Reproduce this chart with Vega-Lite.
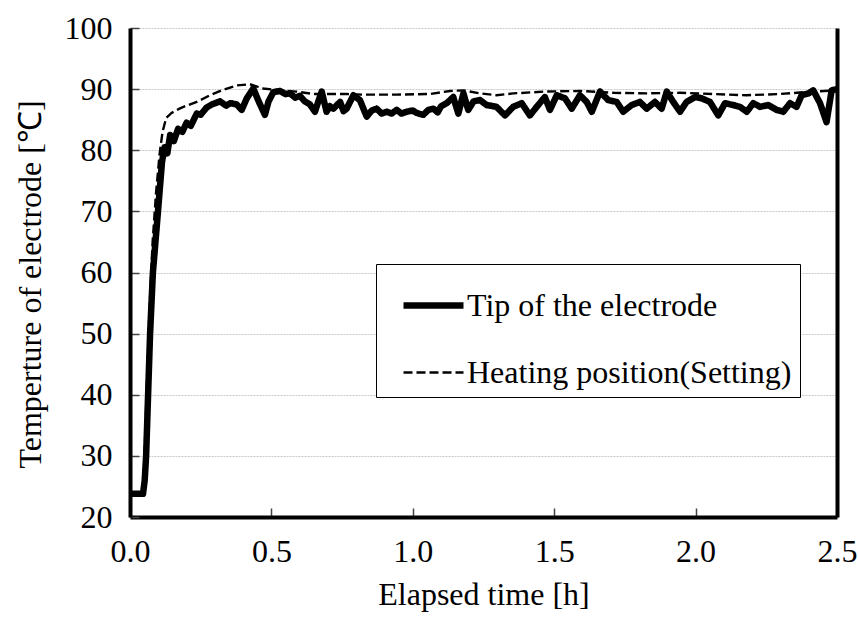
{
  "$schema": "https://vega.github.io/schema/vega-lite/v6.json",
  "width": 707,
  "height": 489,
  "autosize": {"type": "none"},
  "padding": {"left": 130, "top": 28, "right": 21, "bottom": 100},
  "background": "white",
  "config": {"view": {"stroke": null}, "font": "Times New Roman, Liberation Serif, Times, serif",
             "axis": {"labelFont": "Times New Roman", "titleFont": "Times New Roman"},
             "legend": {"labelFont": "Times New Roman, Liberation Serif, Times, serif"}},
  "data": {"values": [
    {"series": "Heating position(Setting)", "t": 0, "v": 23.8},
    {"series": "Heating position(Setting)", "t": 0.044, "v": 23.8},
    {"series": "Heating position(Setting)", "t": 0.05, "v": 28},
    {"series": "Heating position(Setting)", "t": 0.055, "v": 35},
    {"series": "Heating position(Setting)", "t": 0.062, "v": 45},
    {"series": "Heating position(Setting)", "t": 0.07, "v": 55},
    {"series": "Heating position(Setting)", "t": 0.08, "v": 65},
    {"series": "Heating position(Setting)", "t": 0.092, "v": 73},
    {"series": "Heating position(Setting)", "t": 0.105, "v": 79.5},
    {"series": "Heating position(Setting)", "t": 0.115, "v": 83},
    {"series": "Heating position(Setting)", "t": 0.128, "v": 85.3},
    {"series": "Heating position(Setting)", "t": 0.147, "v": 86.1},
    {"series": "Heating position(Setting)", "t": 0.175, "v": 86.8},
    {"series": "Heating position(Setting)", "t": 0.2, "v": 87.3},
    {"series": "Heating position(Setting)", "t": 0.236, "v": 87.9},
    {"series": "Heating position(Setting)", "t": 0.283, "v": 89.0},
    {"series": "Heating position(Setting)", "t": 0.33, "v": 89.9},
    {"series": "Heating position(Setting)", "t": 0.377, "v": 90.6},
    {"series": "Heating position(Setting)", "t": 0.424, "v": 90.8},
    {"series": "Heating position(Setting)", "t": 0.471, "v": 90.1},
    {"series": "Heating position(Setting)", "t": 0.53, "v": 89.8},
    {"series": "Heating position(Setting)", "t": 0.589, "v": 89.6},
    {"series": "Heating position(Setting)", "t": 0.648, "v": 89.2},
    {"series": "Heating position(Setting)", "t": 0.707, "v": 89.2},
    {"series": "Heating position(Setting)", "t": 0.766, "v": 89.2},
    {"series": "Heating position(Setting)", "t": 0.825, "v": 89.1},
    {"series": "Heating position(Setting)", "t": 0.943, "v": 89.1},
    {"series": "Heating position(Setting)", "t": 1.061, "v": 89.2},
    {"series": "Heating position(Setting)", "t": 1.132, "v": 89.7},
    {"series": "Heating position(Setting)", "t": 1.179, "v": 89.8},
    {"series": "Heating position(Setting)", "t": 1.238, "v": 89.3},
    {"series": "Heating position(Setting)", "t": 1.296, "v": 89.0},
    {"series": "Heating position(Setting)", "t": 1.355, "v": 89.3},
    {"series": "Heating position(Setting)", "t": 1.467, "v": 89.6},
    {"series": "Heating position(Setting)", "t": 1.591, "v": 89.7},
    {"series": "Heating position(Setting)", "t": 1.71, "v": 89.4},
    {"series": "Heating position(Setting)", "t": 1.827, "v": 89.3},
    {"series": "Heating position(Setting)", "t": 1.945, "v": 89.4},
    {"series": "Heating position(Setting)", "t": 2.062, "v": 89.2},
    {"series": "Heating position(Setting)", "t": 2.18, "v": 89.0},
    {"series": "Heating position(Setting)", "t": 2.298, "v": 89.2},
    {"series": "Heating position(Setting)", "t": 2.416, "v": 89.6},
    {"series": "Heating position(Setting)", "t": 2.5, "v": 89.8},

    {"series": "Tip of the electrode", "t": 0, "v": 23.8},
    {"series": "Tip of the electrode", "t": 0.046, "v": 23.8},
    {"series": "Tip of the electrode", "t": 0.052, "v": 26},
    {"series": "Tip of the electrode", "t": 0.057, "v": 30},
    {"series": "Tip of the electrode", "t": 0.064, "v": 40},
    {"series": "Tip of the electrode", "t": 0.071, "v": 50},
    {"series": "Tip of the electrode", "t": 0.081, "v": 60},
    {"series": "Tip of the electrode", "t": 0.099, "v": 70},
    {"series": "Tip of the electrode", "t": 0.113, "v": 78},
    {"series": "Tip of the electrode", "t": 0.122, "v": 80.5},
    {"series": "Tip of the electrode", "t": 0.132, "v": 79.5},
    {"series": "Tip of the electrode", "t": 0.142, "v": 82.5},
    {"series": "Tip of the electrode", "t": 0.155, "v": 81.5},
    {"series": "Tip of the electrode", "t": 0.17, "v": 83.5},
    {"series": "Tip of the electrode", "t": 0.185, "v": 83},
    {"series": "Tip of the electrode", "t": 0.2, "v": 84.5},
    {"series": "Tip of the electrode", "t": 0.215, "v": 84},
    {"series": "Tip of the electrode", "t": 0.236, "v": 86},
    {"series": "Tip of the electrode", "t": 0.25, "v": 85.8},
    {"series": "Tip of the electrode", "t": 0.271, "v": 87},
    {"series": "Tip of the electrode", "t": 0.29, "v": 87.5},
    {"series": "Tip of the electrode", "t": 0.318, "v": 88},
    {"series": "Tip of the electrode", "t": 0.34, "v": 87.3},
    {"series": "Tip of the electrode", "t": 0.354, "v": 87.7},
    {"series": "Tip of the electrode", "t": 0.377, "v": 87.5},
    {"series": "Tip of the electrode", "t": 0.395, "v": 86.6},
    {"series": "Tip of the electrode", "t": 0.413, "v": 88.5},
    {"series": "Tip of the electrode", "t": 0.436, "v": 90.1},
    {"series": "Tip of the electrode", "t": 0.455, "v": 88},
    {"series": "Tip of the electrode", "t": 0.477, "v": 85.8},
    {"series": "Tip of the electrode", "t": 0.49, "v": 88},
    {"series": "Tip of the electrode", "t": 0.507, "v": 89.5},
    {"series": "Tip of the electrode", "t": 0.53, "v": 89.7},
    {"series": "Tip of the electrode", "t": 0.55, "v": 89.2},
    {"series": "Tip of the electrode", "t": 0.566, "v": 89.3},
    {"series": "Tip of the electrode", "t": 0.584, "v": 88.6},
    {"series": "Tip of the electrode", "t": 0.601, "v": 88.9},
    {"series": "Tip of the electrode", "t": 0.618, "v": 88.0},
    {"series": "Tip of the electrode", "t": 0.636, "v": 87.5},
    {"series": "Tip of the electrode", "t": 0.654, "v": 86.3},
    {"series": "Tip of the electrode", "t": 0.666, "v": 88.0},
    {"series": "Tip of the electrode", "t": 0.678, "v": 89.6},
    {"series": "Tip of the electrode", "t": 0.695, "v": 86.3},
    {"series": "Tip of the electrode", "t": 0.707, "v": 87.2},
    {"series": "Tip of the electrode", "t": 0.719, "v": 86.8},
    {"series": "Tip of the electrode", "t": 0.743, "v": 87.9},
    {"series": "Tip of the electrode", "t": 0.755, "v": 86.4},
    {"series": "Tip of the electrode", "t": 0.766, "v": 86.8},
    {"series": "Tip of the electrode", "t": 0.79, "v": 89.0},
    {"series": "Tip of the electrode", "t": 0.813, "v": 88.2},
    {"series": "Tip of the electrode", "t": 0.837, "v": 85.5},
    {"series": "Tip of the electrode", "t": 0.855, "v": 86.5},
    {"series": "Tip of the electrode", "t": 0.872, "v": 86.8},
    {"series": "Tip of the electrode", "t": 0.89, "v": 86.0},
    {"series": "Tip of the electrode", "t": 0.908, "v": 86.3},
    {"series": "Tip of the electrode", "t": 0.925, "v": 86.0},
    {"series": "Tip of the electrode", "t": 0.943, "v": 86.6},
    {"series": "Tip of the electrode", "t": 0.96, "v": 86.0},
    {"series": "Tip of the electrode", "t": 0.978, "v": 86.3},
    {"series": "Tip of the electrode", "t": 1.0, "v": 86.5},
    {"series": "Tip of the electrode", "t": 1.014, "v": 86.1},
    {"series": "Tip of the electrode", "t": 1.037, "v": 85.8},
    {"series": "Tip of the electrode", "t": 1.055, "v": 86.6},
    {"series": "Tip of the electrode", "t": 1.073, "v": 86.8},
    {"series": "Tip of the electrode", "t": 1.088, "v": 86.2},
    {"series": "Tip of the electrode", "t": 1.1, "v": 87.2},
    {"series": "Tip of the electrode", "t": 1.12, "v": 87.7},
    {"series": "Tip of the electrode", "t": 1.143, "v": 88.7},
    {"series": "Tip of the electrode", "t": 1.161, "v": 86.0},
    {"series": "Tip of the electrode", "t": 1.179, "v": 89.3},
    {"series": "Tip of the electrode", "t": 1.196, "v": 86.6},
    {"series": "Tip of the electrode", "t": 1.215, "v": 88.0},
    {"series": "Tip of the electrode", "t": 1.238, "v": 88.2},
    {"series": "Tip of the electrode", "t": 1.261, "v": 87.4},
    {"series": "Tip of the electrode", "t": 1.296, "v": 87.1},
    {"series": "Tip of the electrode", "t": 1.326, "v": 85.7},
    {"series": "Tip of the electrode", "t": 1.355, "v": 87.1},
    {"series": "Tip of the electrode", "t": 1.385, "v": 87.7},
    {"series": "Tip of the electrode", "t": 1.414, "v": 85.7},
    {"series": "Tip of the electrode", "t": 1.438, "v": 87.1},
    {"series": "Tip of the electrode", "t": 1.467, "v": 88.7},
    {"series": "Tip of the electrode", "t": 1.485, "v": 86.6},
    {"series": "Tip of the electrode", "t": 1.509, "v": 89.0},
    {"series": "Tip of the electrode", "t": 1.538, "v": 88.5},
    {"series": "Tip of the electrode", "t": 1.562, "v": 86.8},
    {"series": "Tip of the electrode", "t": 1.591, "v": 89.0},
    {"series": "Tip of the electrode", "t": 1.615, "v": 87.9},
    {"series": "Tip of the electrode", "t": 1.633, "v": 86.3},
    {"series": "Tip of the electrode", "t": 1.662, "v": 89.6},
    {"series": "Tip of the electrode", "t": 1.691, "v": 88.2},
    {"series": "Tip of the electrode", "t": 1.721, "v": 87.9},
    {"series": "Tip of the electrode", "t": 1.744, "v": 86.3},
    {"series": "Tip of the electrode", "t": 1.774, "v": 87.4},
    {"series": "Tip of the electrode", "t": 1.803, "v": 87.9},
    {"series": "Tip of the electrode", "t": 1.827, "v": 86.8},
    {"series": "Tip of the electrode", "t": 1.856, "v": 87.9},
    {"series": "Tip of the electrode", "t": 1.88, "v": 86.8},
    {"series": "Tip of the electrode", "t": 1.898, "v": 89.6},
    {"series": "Tip of the electrode", "t": 1.921, "v": 87.9},
    {"series": "Tip of the electrode", "t": 1.945, "v": 86.3},
    {"series": "Tip of the electrode", "t": 1.968, "v": 87.9},
    {"series": "Tip of the electrode", "t": 1.998, "v": 88.7},
    {"series": "Tip of the electrode", "t": 2.021, "v": 88.5},
    {"series": "Tip of the electrode", "t": 2.051, "v": 87.9},
    {"series": "Tip of the electrode", "t": 2.08, "v": 85.7},
    {"series": "Tip of the electrode", "t": 2.104, "v": 87.7},
    {"series": "Tip of the electrode", "t": 2.133, "v": 87.4},
    {"series": "Tip of the electrode", "t": 2.157, "v": 87.1},
    {"series": "Tip of the electrode", "t": 2.181, "v": 86.3},
    {"series": "Tip of the electrode", "t": 2.204, "v": 87.7},
    {"series": "Tip of the electrode", "t": 2.228, "v": 87.1},
    {"series": "Tip of the electrode", "t": 2.257, "v": 87.4},
    {"series": "Tip of the electrode", "t": 2.287, "v": 86.6},
    {"series": "Tip of the electrode", "t": 2.31, "v": 86.3},
    {"series": "Tip of the electrode", "t": 2.334, "v": 87.7},
    {"series": "Tip of the electrode", "t": 2.357, "v": 87.1},
    {"series": "Tip of the electrode", "t": 2.375, "v": 89.0},
    {"series": "Tip of the electrode", "t": 2.399, "v": 89.3},
    {"series": "Tip of the electrode", "t": 2.416, "v": 89.8},
    {"series": "Tip of the electrode", "t": 2.44, "v": 87.7},
    {"series": "Tip of the electrode", "t": 2.463, "v": 84.6},
    {"series": "Tip of the electrode", "t": 2.481, "v": 89.8},
    {"series": "Tip of the electrode", "t": 2.5, "v": 90.0}
  ]},
  "layer": [
    {
      "transform": [{"filter": "datum.series === 'Heating position(Setting)'"}],
      "mark": {"type": "line", "stroke": "black", "strokeCap": "butt", "clip": true},
      "encoding": {
        "x": {"field": "t", "type": "quantitative",
              "scale": {"domain": [0, 2.5], "nice": false, "zero": false},
              "axis": {"values": [0, 0.5, 1, 1.5, 2, 2.5], "format": ".1f", "grid": false,
                       "title": "Elapsed time [h]", "titleFontSize": 32,
                       "titleFont": "Times New Roman", "labelFont": "Times New Roman",
                       "titleFontWeight": "normal", "titleColor": "black", "titlePadding": 12,
                       "labelFontSize": 32, "labelColor": "black",
                       "labelPadding": 28, "labelFlush": false, "labelOverlap": false,
                       "tickSize": -9, "tickColor": "#444", "tickWidth": 1.5,
                       "domainColor": "black", "domainWidth": 4}},
        "y": {"field": "v", "type": "quantitative",
              "scale": {"domain": [20, 100], "nice": false, "zero": false},
              "axis": {"values": [20, 30, 40, 50, 60, 70, 80, 90, 100], "format": "d",
                       "grid": true, "gridColor": "#c8c8c8", "gridDash": [2, 1], "gridWidth": 1,
                       "title": "Temperture of electrode [℃]", "titleFontSize": 32,
                       "titleFont": "Times New Roman", "labelFont": "Times New Roman",
                       "titleFontWeight": "normal", "titleColor": "black", "titlePadding": 17,
                       "titleY": 256,
                       "labelFontSize": 32, "labelColor": "black",
                       "labelPadding": 27, "labelFlush": false, "labelOverlap": false,
                       "tickSize": -9, "tickColor": "#444", "tickWidth": 1.5,
                       "domainColor": "black", "domainWidth": 4}},
        "strokeDash": {"field": "series", "type": "nominal",
                       "scale": {"domain": ["Tip of the electrode", "Heating position(Setting)"], "range": [[1, 0], [9, 4]]},
                       "legend": {"orient": "none", "legendX": 246, "legendY": 236, "title": null,
                                  "labelFontSize": 32, "labelColor": "black",
                                  "symbolType": "stroke", "symbolSize": 3600, "symbolStrokeColor": "black",
                                  "strokeColor": "black", "fillColor": "white", "padding": 8, "rowPadding": 19,
                                  "labelOffset": 0, "symbolOffset": 16, "labelLimit": 500}},
        "strokeWidth": {"field": "series", "type": "nominal",
                        "scale": {"type": "ordinal", "domain": ["Tip of the electrode", "Heating position(Setting)"], "range": [6.5, 2.4]},
                        "legend": {"orient": "none", "legendX": 246, "legendY": 236, "title": null,
                                  "labelFontSize": 32, "labelColor": "black",
                                  "symbolType": "stroke", "symbolSize": 3600, "symbolStrokeColor": "black",
                                  "strokeColor": "black", "fillColor": "white", "padding": 8, "rowPadding": 19,
                                  "labelOffset": 0, "symbolOffset": 16, "labelLimit": 500}}
      }
    },
    {
      "transform": [{"filter": "datum.series === 'Tip of the electrode'"}],
      "mark": {"type": "line", "stroke": "black", "strokeJoin": "round", "strokeCap": "round", "clip": true},
      "encoding": {
        "x": {"field": "t", "type": "quantitative", "scale": {"domain": [0, 2.5], "nice": false, "zero": false}},
        "y": {"field": "v", "type": "quantitative",
              "scale": {"domain": [20, 100], "nice": false, "zero": false},
              "axis": {"orient": "right", "labels": false, "ticks": false, "grid": false, "title": null,
                       "domainColor": "black", "domainWidth": 4}},
        "strokeDash": {"field": "series", "type": "nominal",
                       "scale": {"domain": ["Tip of the electrode", "Heating position(Setting)"], "range": [[1, 0], [9, 4]]}},
        "strokeWidth": {"field": "series", "type": "nominal",
                        "scale": {"type": "ordinal", "domain": ["Tip of the electrode", "Heating position(Setting)"], "range": [6.5, 2.4]}}
      }
    }
  ],
  "resolve": {"axis": {"y": "independent"}}
}
